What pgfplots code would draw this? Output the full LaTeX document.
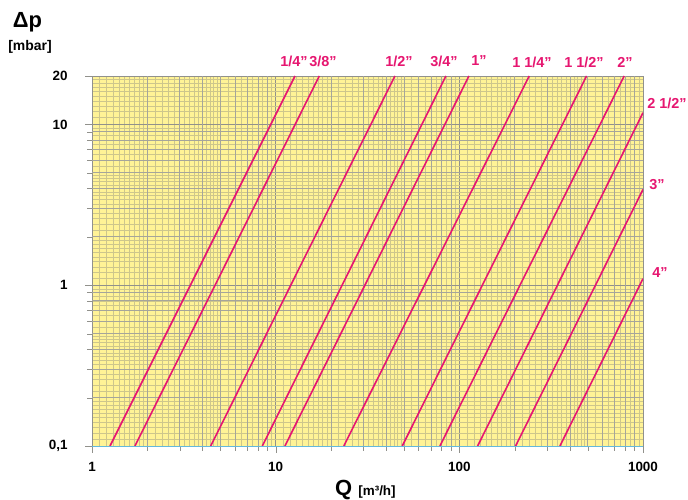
\documentclass[border=0pt]{standalone}
\usepackage{pgfplots}
\pgfplotsset{compat=1.18}
\usepackage{fontspec}
\setmainfont{Liberation Sans}

\definecolor{pipe}{RGB}{230,22,112}
\definecolor{paper}{RGB}{255,243,150}
\definecolor{gridd}{RGB}{145,145,140}
\definecolor{gridm}{RGB}{165,165,155}
\definecolor{gridf}{RGB}{205,198,140}
\definecolor{baseblue}{RGB}{100,185,220}

\begin{document}
\begin{tikzpicture}[font=\bfseries]
\useasboundingbox (-92bp,-54bp) rectangle (596bp,446bp);
\begin{axis}[
    at={(0,0)}, anchor=south west, scale only axis,
    width=551bp, height=370bp,
    xmode=log, ymode=log,
    xmin=1, xmax=1000, ymin=0.1, ymax=20,
    axis background/.style={fill=paper},
    axis line style={gridd},
    xtick={1,10,100,1000}, xticklabels={1,10,100,1000},
    ytick={0.1,1,10,20}, yticklabels={{0,1},1,10,20},
    xtick pos=bottom, ytick pos=left,
    tick align=outside,
    major tick length=7bp, minor tick length=0pt,
    tick style={gridd},
    /pgf/number format/assume math mode=true,
    tick label style={font=\fontsize{13.5}{15}\selectfont\bfseries},
    xticklabel style={yshift=-6bp},
    yticklabel style={xshift=-14bp},
    grid=both,
    major grid style={gridd, line width=0.9bp},
    minor grid style={gridf, line width=0.55bp},
    minor xtick={1.1,1.2,...,1.95, 2.2,2.4,...,4.9, 5.5,6,...,9.9,
                 11,12,...,19, 22,24,...,49, 55,60,...,99,
                 110,120,...,190, 220,240,...,490, 550,600,...,990},
    minor ytick={0.11,0.12,...,0.195, 0.22,0.24,...,0.49, 0.55,0.6,...,0.99,
                 1.1,1.2,...,1.95, 2.2,2.4,...,4.9, 5.5,6,...,9.9,
                 11,12,...,19},
    extra x ticks={2,3,4,5,6,7,8,9,20,30,40,50,60,70,80,90,200,300,400,500,600,700,800,900},
    extra x tick labels={},
    extra x tick style={grid=major, major grid style={gridm, line width=0.7bp}, major tick length=5bp},
    extra y ticks={0.2,0.3,0.4,0.5,0.6,0.7,0.8,0.9,2,3,4,5,6,7,8,9},
    extra y tick labels={},
    extra y tick style={grid=major, major grid style={gridm, line width=0.7bp}, major tick length=5bp},
]
% pipe sizes: 1/4", 3/8", 1/2", 3/4", 1", 1 1/4", 1 1/2", 2", 2 1/2", 3", 4"
\addplot[pipe, line width=1.6bp] coordinates {(1.253,0.1) (12.74,20)};
\addplot[pipe, line width=1.6bp] coordinates {(1.714,0.1) (17.28,20)};
\addplot[pipe, line width=1.6bp] coordinates {(4.43,0.1) (44.6,20)};
\addplot[pipe, line width=1.6bp] coordinates {(8.46,0.1) (84.5,20)};
\addplot[pipe, line width=1.6bp] coordinates {(11.23,0.1) (112.8,20)};
\addplot[pipe, line width=1.6bp] coordinates {(23.5,0.1) (240.2,20)};
\addplot[pipe, line width=1.6bp] coordinates {(48.9,0.1) (493,20)};
\addplot[pipe, line width=1.6bp] coordinates {(78.4,0.1) (790,20)};
\addplot[pipe, line width=1.6bp] coordinates {(125.8,0.1) (1000,11.82)};
\addplot[pipe, line width=1.6bp] coordinates {(202.5,0.1) (1000,3.94)};
\addplot[pipe, line width=1.6bp] coordinates {(352.9,0.1) (1000,1.098)};
\draw[baseblue, line width=1bp] (rel axis cs:0,0) -- (rel axis cs:1,0);
\end{axis}

\begin{scope}[pipe, font=\fontsize{14.5}{16}\selectfont\bfseries]
  \node at (202bp,385bp) {1/4”};
  \node at (231bp,385bp) {3/8”};
  \node at (307bp,385bp) {1/2”};
  \node at (352bp,385bp) {3/4”};
  \node at (387bp,385bp) {1”};
  \node at (440bp,384bp) {1 1/4”};
  \node at (492bp,384bp) {1 1/2”};
  \node at (533bp,384bp) {2”};
  \node at (575bp,343bp) {2 1/2”};
  \node at (565bp,261bp) {3”};
  \node at (568bp,173bp) {4”};
\end{scope}

\node at (-64.5bp,424bp) {\fontsize{22}{24}\selectfont Δp};
\node at (-62bp,399bp) {\fontsize{14}{16}\selectfont [mbar]};
\node[anchor=base west, inner sep=0pt] at (243bp,-49bp)
  {\fontsize{22}{24}\selectfont Q \fontsize{13.5}{15}\selectfont[m³/h]};
\end{tikzpicture}
\end{document}
